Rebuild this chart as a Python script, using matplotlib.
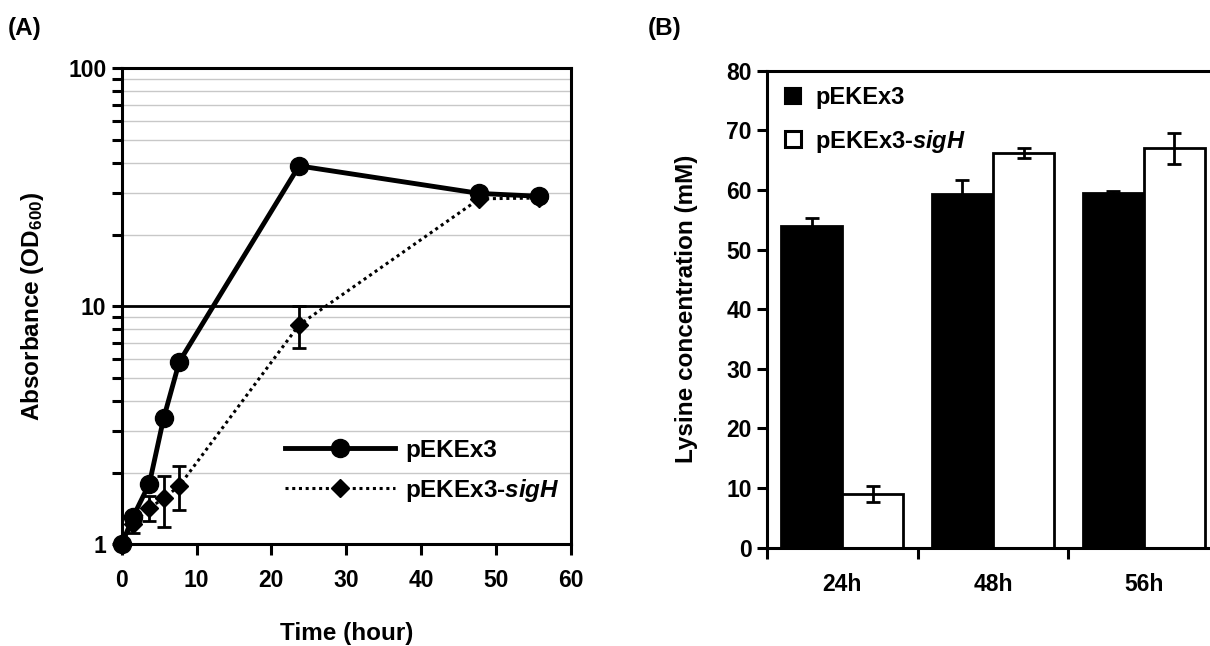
import matplotlib
matplotlib.use("Agg")
import matplotlib.pyplot as plt
from matplotlib.lines import Line2D
import numpy as np

plt.rcParams['font.family'] = ['Liberation Sans', 'DejaVu Sans']
plt.rcParams['font.weight'] = 'bold'
plt.rcParams['mathtext.fontset'] = 'custom'
plt.rcParams['mathtext.rm'] = 'Liberation Sans:bold'
plt.rcParams['mathtext.it'] = 'Liberation Sans:bold:italic'
plt.rcParams['mathtext.bf'] = 'Liberation Sans:bold'

# ---- Panel A data ----
time_ctrl = [0, 1.5, 3.7, 5.6, 7.7, 23.7, 47.8, 55.7]
od_ctrl = [1.0, 1.30, 1.80, 3.38, 5.85, 38.9, 29.8, 29.0]
time_sigh = [0, 1.5, 3.7, 5.6, 7.7, 23.7, 47.8, 55.7]
od_sigh = [1.0, 1.22, 1.42, 1.56, 1.76, 8.35, 28.3, 28.5]
od_sigh_err = [0.0, 0.10, 0.17, 0.38, 0.37, 1.65, 0.0, 0.0]
x_ticks_a = [0, 10, 20, 30, 40, 50, 60]
y_ticks_a = [1, 10, 100]

# ---- Panel B data ----
times_b = ['24h', '48h', '56h']
lys_ctrl = [54.0, 59.3, 59.5]
lys_ctrl_err = [1.3, 2.4, 0.4]
lys_sigh = [9.0, 66.2, 67.0]
lys_sigh_err = [1.3, 0.8, 2.6]
y_ticks_b = [0, 10, 20, 30, 40, 50, 60, 70, 80]

W, H = 1210, 646
fig = plt.figure(figsize=(W / 100, H / 100), dpi=100)

def rect(x0, y0, x1, y1):
    return [x0 / W, 1 - y1 / H, (x1 - x0) / W, (y1 - y0) / H]

FT = 16.5   # tick labels
FL = 17.5   # axis labels

# ================= Panel A =================
ax = fig.add_axes(rect(121.7, 68.3, 570.7, 544.3))
ax.set_yscale('log')
ax.set_xlim(0, 60)
ax.set_ylim(1, 100)
minor_vals = [m * 10 ** e for e in range(0, 2) for m in range(2, 10)]
for v in minor_vals:
    ax.axhline(v, color='#c8c8c8', lw=1.0, zorder=0)
ax.axhline(10, color='black', lw=2.0, zorder=0.5)

ax.plot(time_sigh, od_sigh, linestyle=(0, (1, 1.2)), color='black', lw=2.2,
        marker='D', markersize=9.5, markerfacecolor='black', markeredgecolor='black',
        zorder=3, clip_on=False)
ax.errorbar(time_sigh, od_sigh, yerr=od_sigh_err, fmt='none', ecolor='black',
            elinewidth=2.0, capsize=4.8, capthick=2.0, zorder=3, clip_on=False)
ax.plot(time_ctrl, od_ctrl, '-', color='black', lw=3.5, marker='o', markersize=13,
        zorder=4, clip_on=False)

for s in ax.spines.values():
    s.set_linewidth(2.2)
ax.set_xticks(x_ticks_a)
ax.set_xticklabels([str(t) for t in x_ticks_a], fontsize=FT, fontweight='bold')
ax.set_yticks(y_ticks_a)
ax.set_yticklabels([str(t) for t in y_ticks_a], fontsize=FT, fontweight='bold')
ax.yaxis.set_minor_locator(matplotlib.ticker.FixedLocator(minor_vals))
ax.yaxis.set_minor_formatter(matplotlib.ticker.NullFormatter())
ax.tick_params(axis='y', which='both', direction='out', length=7, width=2.2, pad=4)
ax.tick_params(axis='x', which='major', direction='out', length=8, width=2.2, pad=9.5)
ax.set_xlabel('Time (hour)', fontsize=FL, fontweight='bold', labelpad=22)
ax.set_ylabel('Absorbance (OD$_{600}$)', fontsize=FL, fontweight='bold', labelpad=16)

h_ctrl = Line2D([], [], color='black', lw=3.5, marker='o', markersize=13)
h_sigh = Line2D([], [], color='black', lw=2.2, linestyle=(0, (1, 1.2)), marker='D', markersize=9.5)
leg = ax.legend([h_ctrl, h_sigh], ['pEKEx3', 'pEKEx3-$sigH$'], loc='upper left',
                bbox_to_anchor=(285 / W, 1 - 439 / H), bbox_transform=fig.transFigure,
                frameon=False, fontsize=17.5, handlelength=4.53, handletextpad=0.41,
                labelspacing=0.6, borderpad=0, borderaxespad=0)
for t in leg.get_texts():
    t.set_fontweight('bold')

fig.text(8 / W, 1 - 29 / H, '(A)', fontsize=FL, fontweight='bold', va='center', ha='left')

# ================= Panel B =================
bx = fig.add_axes(rect(767, 70.7, 1219, 547.7))
x = np.arange(len(times_b))
bw = 0.405
off = 0.203
bx.bar(x - off, lys_ctrl, width=bw, color='black', edgecolor='black', lw=2, zorder=2)
bx.bar(x + off, lys_sigh, width=bw, color='white', edgecolor='black', lw=2, zorder=2)
bx.errorbar(x - off, lys_ctrl, yerr=lys_ctrl_err, fmt='none', ecolor='black',
            elinewidth=2, capsize=4.8, capthick=2, zorder=3)
bx.errorbar(x + off, lys_sigh, yerr=lys_sigh_err, fmt='none', ecolor='black',
            elinewidth=2, capsize=4.8, capthick=2, zorder=3)
bx.set_xlim(-0.5, 2.5)
bx.set_ylim(0, 80)
bx.spines['right'].set_visible(False)
for s in ['left', 'top', 'bottom']:
    bx.spines[s].set_linewidth(2.2)
bx.set_yticks(y_ticks_b)
bx.set_yticklabels([str(t) for t in y_ticks_b], fontsize=FT, fontweight='bold')
bx.set_xticks([-0.5, 0.5, 1.5])
bx.set_xticklabels([])
bx.set_xticks(x, minor=True)
bx.set_xticklabels(times_b, minor=True, fontsize=FT, fontweight='bold')
bx.tick_params(axis='x', which='major', direction='out', length=8, width=2.2)
bx.tick_params(axis='x', which='minor', length=0, pad=18)
bx.tick_params(axis='y', direction='out', length=7, width=2.2, pad=4)
bx.set_ylabel('Lysine concentration (mM)', fontsize=FL, fontweight='bold', labelpad=20)

hb1 = Line2D([], [], linestyle='none', marker='s', markersize=12,
             markerfacecolor='black', markeredgecolor='black', markeredgewidth=1.5)
hb2 = Line2D([], [], linestyle='none', marker='s', markersize=11,
             markerfacecolor='white', markeredgecolor='black', markeredgewidth=2.2)
leg2 = bx.legend([hb1, hb2], ['pEKEx3', 'pEKEx3-$sigH$'], loc='upper left',
                 bbox_to_anchor=(781 / W, 1 - 86 / H), bbox_transform=fig.transFigure,
                 frameon=False, fontsize=17, handlelength=1.0, handletextpad=0.44,
                 labelspacing=0.79, borderpad=0, borderaxespad=0)
for t in leg2.get_texts():
    t.set_fontweight('bold')

fig.text(648 / W, 1 - 29 / H, '(B)', fontsize=FL, fontweight='bold', va='center', ha='left')

fig.savefig('out.png', dpi=100)
